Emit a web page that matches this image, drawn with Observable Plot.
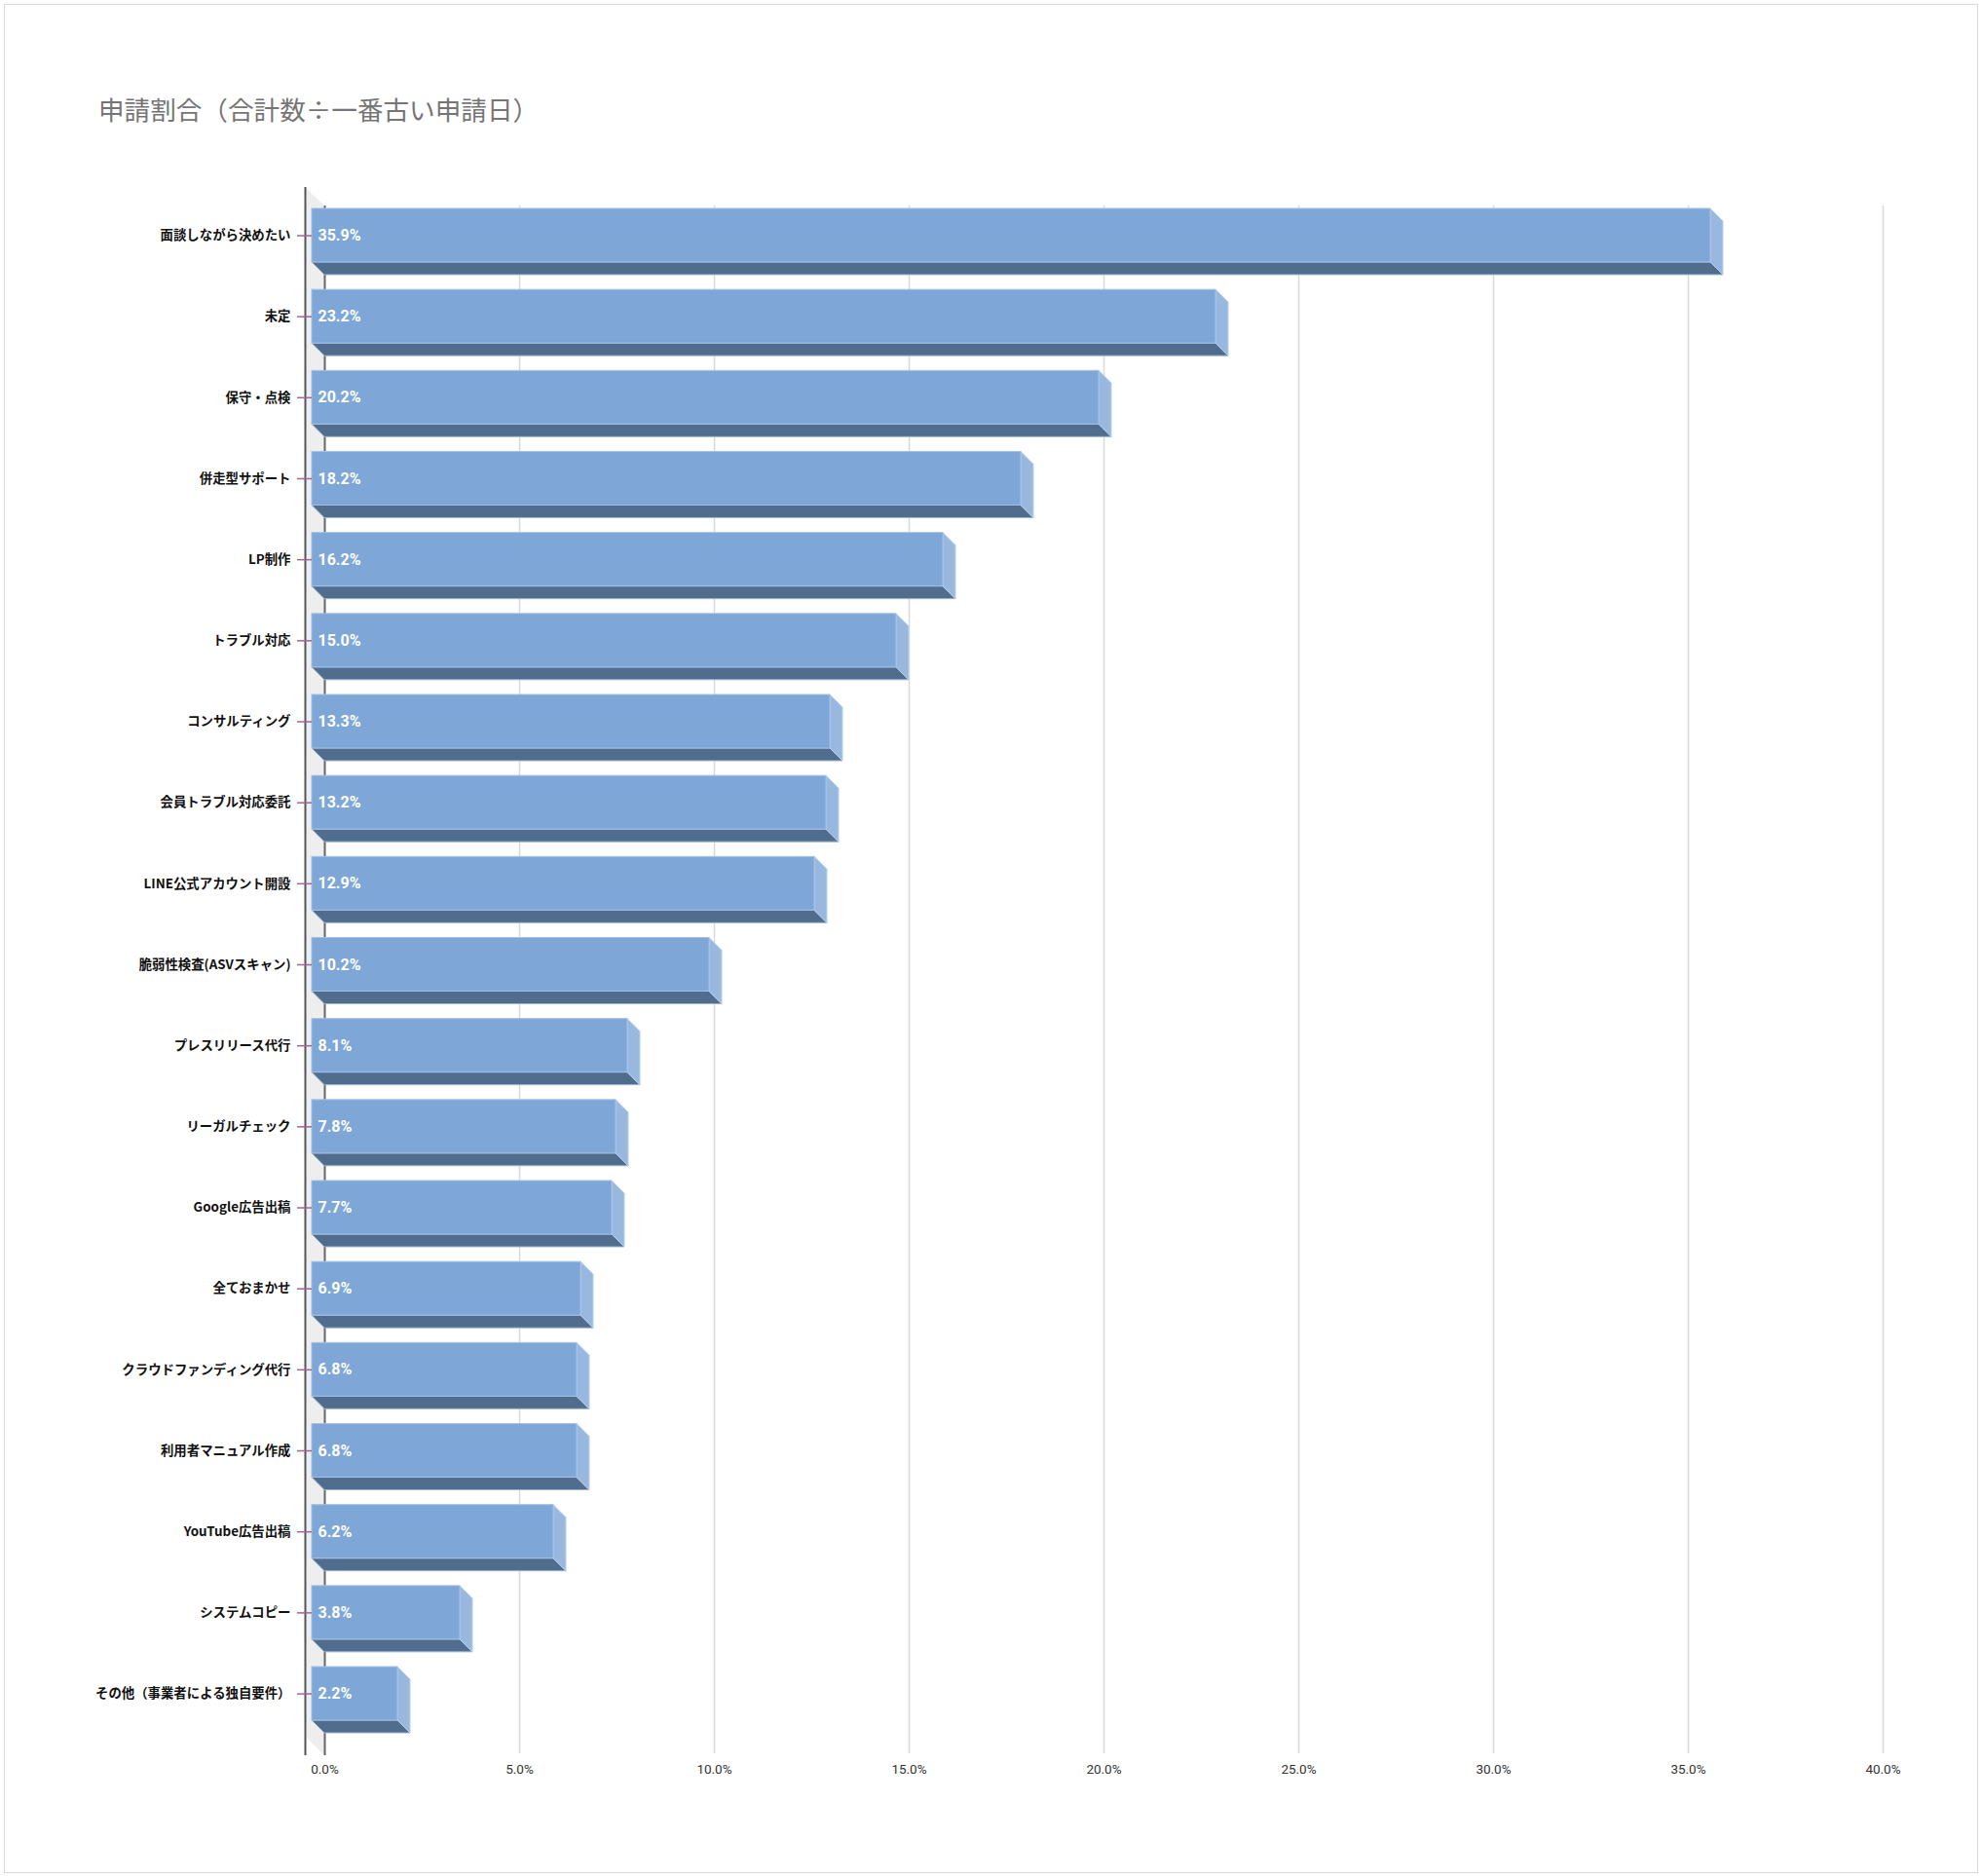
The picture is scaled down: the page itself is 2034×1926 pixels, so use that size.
<!DOCTYPE html>
<html><head><meta charset="utf-8">
<script src="https://cdn.jsdelivr.net/npm/d3@7"></script>
<script src="https://cdn.jsdelivr.net/npm/@observablehq/plot@0.6"></script>
<style>
html,body{margin:0;padding:0;background:#fff;}
#wrap{position:relative;width:2034px;height:1926px;overflow:hidden;background:#fff;}
#frame{position:absolute;left:4px;top:4px;width:2027px;height:1919px;box-sizing:border-box;border:1.5px solid #d9d9d9;}
#title{position:absolute;left:101px;top:95px;font-family:"Noto Sans CJK JP",sans-serif;font-size:26.6px;color:#757575;line-height:34px;white-space:nowrap;}
#chart{position:absolute;left:0;top:150px;}
</style></head><body>
<div id="wrap"><div id="frame"></div><div id="title">申請割合（合計数÷一番古い申請日）</div><div id="chart"></div></div>
<script>
const categories = [
  "面談しながら決めたい", "未定", "保守・点検", "併走型サポート", "LP制作", "トラブル対応",
  "コンサルティング", "会員トラブル対応委託", "LINE公式アカウント開設", "脆弱性検査(ASVスキャン)",
  "プレスリリース代行", "リーガルチェック", "Google広告出稿", "全ておまかせ",
  "クラウドファンディング代行", "利用者マニュアル作成", "YouTube広告出稿", "システムコピー",
  "その他（事業者による独自要件）"
];
const values = [35.9, 23.2, 20.2, 18.2, 16.2, 15.0, 13.3, 13.2, 12.9, 10.2, 8.1, 7.8, 7.7, 6.9, 6.8, 6.8, 6.2, 3.8, 2.2];
const xTicks = [0, 5, 10, 15, 20, 25, 30, 35, 40];
const xTickLabels = ["0.0%", "5.0%", "10.0%", "15.0%", "20.0%", "25.0%", "30.0%", "35.0%", "40.0%"];
const valueLabels = ["35.9%", "23.2%", "20.2%", "18.2%", "16.2%", "15.0%", "13.3%", "13.2%", "12.9%", "10.2%", "8.1%", "7.8%", "7.7%", "6.9%", "6.8%", "6.8%", "6.2%", "3.8%", "2.2%"];

const data = categories.map((c, i) => ({category: c, value: values[i], label: valueLabels[i]}));

const D = 13;          // 3D depth offset
const WALL = 20;       // wall width
const NS = "http://www.w3.org/2000/svg";

function poly(g, pts, fill, stroke) {
  const p = document.createElementNS(NS, "polygon");
  p.setAttribute("points", pts.map(q => q.join(",")).join(" "));
  p.setAttribute("fill", fill);
  if (stroke) { p.setAttribute("stroke", stroke); p.setAttribute("stroke-width", "1"); }
  g.appendChild(p);
}

function wallMark(index, scales, values, dims) {
  const g = document.createElementNS(NS, "g");
  const x0 = scales.x(0);
  const top = dims.marginTop, bottom = dims.height - dims.marginBottom;
  poly(g, [[x0 - WALL, top - 19], [x0, top], [x0, bottom + 2], [x0 - WALL, bottom - 18]], "#eeeeee");
  return g;
}

function facesMark(index, scales, values, dims) {
  const g = document.createElementNS(NS, "g");
  const x = scales.x, y = scales.y;
  const bw = typeof y.bandwidth === "function" ? y.bandwidth() : 55;
  for (const d of data) {
    const x0 = x(0), x1 = x(d.value), yt = y(d.category), yb = yt + bw;
    poly(g, [[x0 - D, yb - D], [x1 - D, yb - D], [x1, yb], [x0, yb]], "#516d8d", "#9fb6d3");
    poly(g, [[x1 - D, yt - D], [x1, yt], [x1, yb], [x1 - D, yb - D]], "#98b8e0", "#b9d0ee");
  }
  return g;
}

const chart = Plot.plot({
  width: 2034,
  height: 1776,
  marginLeft: 320,
  marginRight: 101,
  marginTop: 61,
  marginBottom: 126,
  x: {domain: [0, 40], range: [333, 1933], axis: null},
  y: {domain: categories, range: [48.8, 1657.2], padding: 0.3387, round: false, axis: null},
  style: {background: "transparent", overflow: "visible"},
  marks: [
    wallMark,
    Plot.ruleX(xTicks.filter(t => t > 0), {stroke: "#d9d9d9", strokeWidth: 1.5}),
    Plot.ruleX([0], {stroke: "#666", strokeWidth: 2, insetBottom: -2}),
    Plot.ruleX([0], {dx: -WALL, insetTop: -19, insetBottom: -2, stroke: "#555", strokeWidth: 2}),
    facesMark,
    Plot.barX(data, {x: "value", y: "category", dx: -D, dy: -D, fill: "#7ea7d8", stroke: "#a3c0e6", strokeWidth: 1}),
    Plot.text(data, {x: 0, y: "category", text: "label", dx: -D + 6, dy: -D, textAnchor: "start",
      fill: "white", fontWeight: "bold", fontSize: 16, fontFamily: "Roboto, Liberation Sans, sans-serif"}),
    Plot.axisY({anchor: "left", tickSize: 15, tickPadding: 7, dy: -D, stroke: "#a0668f", strokeWidth: 1.5,
      fill: "#111", fontSize: 13.4, fontWeight: "bold", fontFamily: "Noto Sans CJK JP, sans-serif", label: null}),
    Plot.text(xTicks, {x: d => d, text: (d, i) => xTickLabels[i], frameAnchor: "bottom", dy: 20,
      fontSize: 13.5, fill: "#333", fontFamily: "Roboto, Liberation Sans, sans-serif"})
  ]
});
document.getElementById("chart").appendChild(chart);
</script>
</body></html>
